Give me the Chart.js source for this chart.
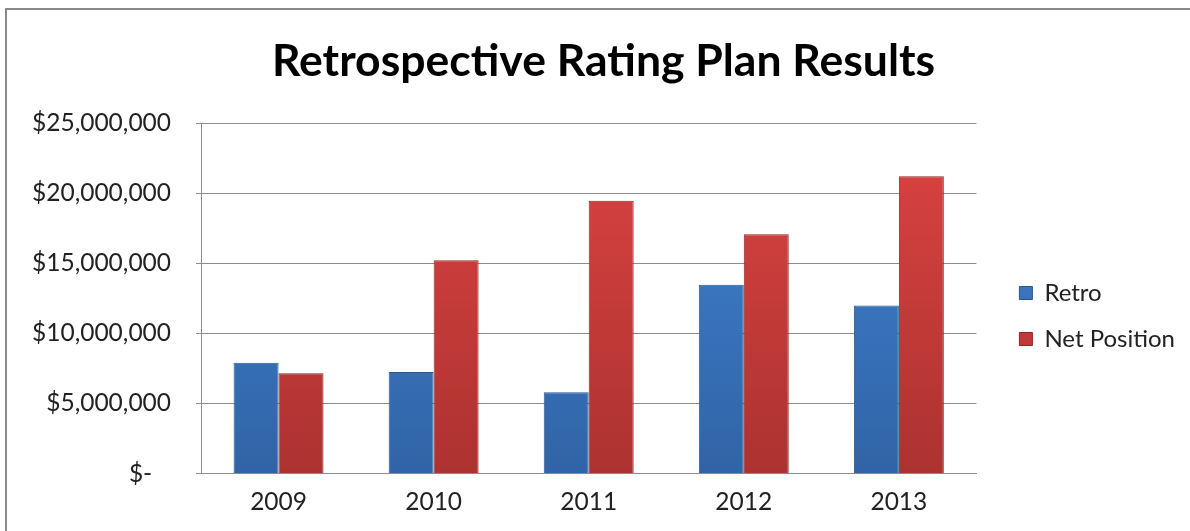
<!DOCTYPE html>
<html>
<head>
<meta charset="utf-8">
<script src="https://cdn.jsdelivr.net/npm/chart.js@4"></script>
<style>
    html, body { margin: 0; padding: 0; background: #fff; }
    #wrap { position: relative; width: 1190px; height: 531px; overflow: hidden; }
    #frame { position: absolute; left: 5px; top: 8px; width: 1200px; height: 600px; border: 2px solid #8a8a8a; }
    canvas { position: absolute; left: 0; top: 0; }
</style>
</head>
<body>
<div id="wrap">
    <div id="frame"></div>
    <canvas id="chart" width="1190" height="531"></canvas>
</div>
<script>
const years = ['2009', '2010', '2011', '2012', '2013'];
const retro = [7920000, 7250000, 5800000, 13480000, 12000000];
const netPosition = [7170000, 15230000, 19480000, 17080000, 21230000];
const yTicks = [0, 5000000, 10000000, 15000000, 20000000, 25000000];

function barFill(top, bottom) {
    return function (context) {
        const chart = context.chart;
        const area = chart.chartArea;
        if (!area) return top;
        const g = chart.ctx.createLinearGradient(0, area.top, 0, area.bottom);
        g.addColorStop(0, top);
        g.addColorStop(1, bottom);
        return g;
    };
}

function money(v) {
    if (v === 0) return '$-   ';
    return '$' + v.toLocaleString('en-US');
}

// nudge the legend and title a little, like the original
const boxShift = {
    id: 'boxShift',
    afterLayout(chart) {
        const lg = chart.legend;
        if (lg) {
            lg.left += 21;
            lg.right += 21;
            lg.top += 33;
            lg.bottom += 33;
        }
        const t = chart.titleBlock;
        if (t) {
            t.left += 18;
            t.right += 18;
        }
    }
};

const ctx = document.getElementById('chart').getContext('2d');
new Chart(ctx, {
    type: 'bar',
    data: {
        labels: years,
        datasets: [{
            label: 'Retro',
            data: retro,
            backgroundColor: barFill('#4283d4', '#3064a6'),
            borderColor: '#2a568f',
            borderWidth: 1
        }, {
            label: 'Net Position',
            data: netPosition,
            backgroundColor: barFill('#dc4442', '#ac3230'),
            borderColor: '#8e2624',
            borderWidth: 1
        }]
    },
    plugins: [boxShift],
    options: {
        responsive: false,
        animation: false,
        layout: { padding: { left: 7, top: 35, bottom: 0, right: 26 } },
        datasets: {
            bar: { categoryPercentage: 0.58, barPercentage: 1 }
        },
        plugins: {
            title: {
                display: true,
                text: 'Retrospective Rating Plan Results',
                color: '#000',
                font: { family: 'Lato', size: 44.5, weight: 'bold' },
                padding: { top: 0, bottom: 35 }
            },
            legend: {
                position: 'right',
                labels: {
                    color: '#222',
                    font: { family: 'Lato', size: 24 },
                    boxWidth: 13,
                    boxHeight: 13,
                    padding: 22
                }
            },
            tooltip: { enabled: false }
        },
        scales: {
            x: {
                grid: { display: false, drawTicks: false },
                border: { color: '#8c8c8c' },
                ticks: {
                    color: '#222',
                    font: { family: 'Lato', size: 24.5 },
                    padding: 14
                }
            },
            y: {
                min: 0,
                max: 25000000,
                afterBuildTicks: axis => { axis.ticks = yTicks.map(v => ({ value: v })); },
                grid: { color: '#8c8c8c', tickLength: 5 },
                border: { color: '#8c8c8c' },
                ticks: {
                    color: '#222',
                    font: { family: 'Lato', size: 24.5 },
                    padding: 25,
                    callback: money
                }
            }
        }
    }
});
</script>
</body>
</html>
